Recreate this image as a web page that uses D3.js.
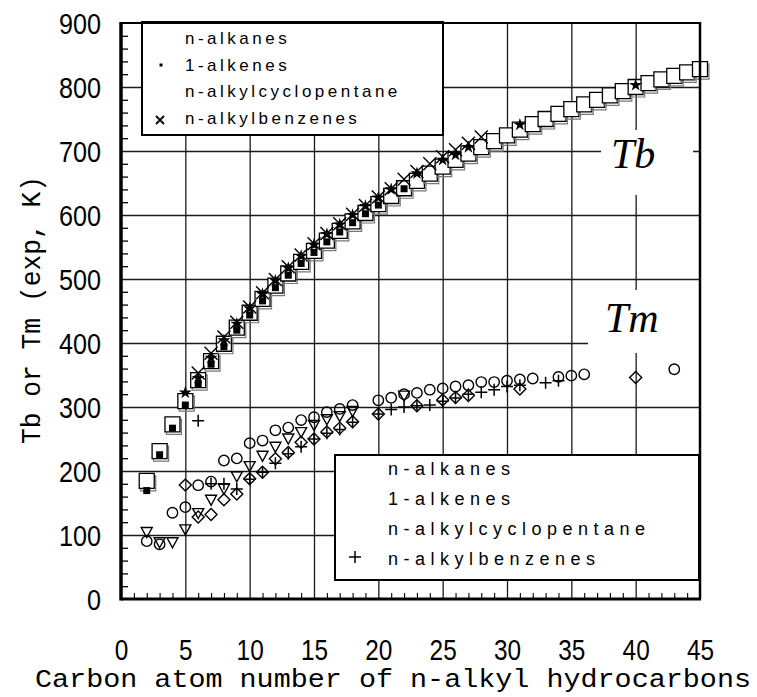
<!DOCTYPE html>
<html>
<head>
<meta charset="utf-8">
<script src="https://cdn.jsdelivr.net/npm/d3@7"></script>
<style>
  body { margin: 0; background: #fff; }
  text { fill: #000; }
</style>
</head>
<body>
<script>
// ---- data: [carbon number, temperature K] ----
// boiling points (Tb)
const tbAlkanes = [[2,184.6],[3,231.1],[4,272.7],[5,309.2],[6,341.9],[7,371.6],[8,398.8],[9,424.0],[10,447.3],[11,469.1],[12,489.5],[13,508.6],[14,526.7],[15,543.8],[16,560.0],[17,575.3],[18,589.9],[19,603.1],[20,616.9],[21,629.7],[22,641.8],[23,653.4],[24,664.5],[25,675.6],[26,686.0],[27,696.0],[28,706.0],[29,715.5],[30,724.5],[31,733.5],[32,742.0],[33,750.0],[34,758.0],[35,765.5],[36,773.0],[37,780.0],[38,787.0],[39,793.5],[40,800.0],[41,806.0],[42,812.0],[43,817.5],[44,823.0],[45,828.0]];
const tbAlkenes = [[2,169.4],[3,225.4],[4,266.9],[5,303.1],[6,336.6],[7,366.8],[8,394.4],[9,420.0],[10,443.7],[11,465.8],[12,486.5],[13,505.9],[14,524.3],[15,541.5],[16,558.0],[17,573.5],[18,588.0],[19,602.0],[20,615.5],[22,641.0]];
const tbCyclopentanes = [[5,322.4],[6,345.0],[7,376.6],[8,404.1],[9,430.0],[10,454.1],[11,476.3],[12,497.3],[13,517.0],[14,535.7],[15,553.3],[16,570.0],[17,585.0],[18,600.0],[19,614.0],[20,627.0],[21,640.0],[23,665.0],[25,686.0],[26,694.0],[27,706.0],[31,741.0],[40,803.0]];
const tbBenzenes = [[6,353.2],[7,383.8],[8,409.3],[9,432.4],[10,456.4],[11,478.6],[12,499.3],[13,519.0],[14,537.6],[15,555.0],[16,571.0],[17,586.4],[18,601.0],[19,615.0],[20,628.0],[21,641.0],[22,656.0],[23,668.0],[24,680.0],[25,691.0],[26,702.0],[27,712.0],[28,722.0]];

// melting points (Tm)
const tmAlkanes = [[2,90.4],[3,85.5],[4,134.8],[5,143.5],[6,177.8],[7,183.5],[8,216.4],[9,219.7],[10,243.5],[11,247.6],[12,263.6],[13,267.8],[14,279.5],[15,284.0],[16,292.0],[17,297.0],[18,303.0],[20,310.5],[21,314.5],[22,320.0],[23,322.0],[24,327.0],[25,329.0],[26,332.0],[27,334.0],[28,339.0],[29,339.0],[30,341.0],[31,343.0],[32,344.5],[34,347.0],[35,349.0],[36,351.0],[43,359.0]];
const tmAlkenes = [[2,103.9],[3,87.9],[4,87.8],[5,108.0],[6,133.4],[7,154.3],[8,171.4],[9,191.0],[10,206.9],[11,223.0],[12,237.0],[13,250.0],[14,260.0],[15,271.0],[16,280.0],[17,285.0],[18,293.0],[22,317.0]];
const tmCyclopentanes = [[5,178.0],[6,128.0],[7,132.0],[8,155.0],[9,164.0],[10,188.0],[11,198.0],[12,219.0],[13,229.0],[14,245.0],[15,250.0],[16,261.0],[17,267.0],[18,277.0],[20,289.0],[23,302.0],[25,311.0],[26,315.0],[27,318.0],[31,328.0],[40,346.0]];
const tmBenzenes = [[6,278.7],[7,180.0],[8,180.0],[9,172.0],[10,187.0],[11,198.0],[12,212.0],[13,227.0],[14,238.0],[15,250.0],[16,259.0],[17,265.0],[18,276.0],[20,289.0],[21,296.0],[22,300.0],[23,302.0],[24,303.0],[25,309.0],[26,314.0],[27,320.0],[28,323.0],[29,327.0],[30,332.0],[31,334.0],[33,338.0],[34,341.0]];

const xTicks = [0,5,10,15,20,25,30,35,40,45];
const yTicks = [0,100,200,300,400,500,600,700,800,900];
const legendNames = ["n-alkanes","1-alkenes","n-alkylcyclopentane","n-alkylbenzenes"];

const xTitle = "Carbon atom number of n-alkyl hydrocarbons";
const yTitle = "Tb or Tm (exp, K)";

// ---- setup ----
const W = 757, H = 697;
const svg = d3.select("body").append("svg").attr("width", W).attr("height", H);

const x = d3.scaleLinear().domain([0, 45]).range([121, 700]);
const y = d3.scaleLinear().domain([0, 900]).range([599, 23]);

const xMinor = d3.range(1, 45).filter(v => v % 5 !== 0);
const yMinor = d3.range(20, 900, 20).filter(v => v % 100 !== 0);

// gridlines
svg.append("g")
  .attr("transform", `translate(0,${y(0)})`)
  .call(d3.axisBottom(x).tickValues(xTicks.filter(v => v > 0 && v < 45))
    .tickSize(-(y(0) - y(900))).tickFormat(""))
  .call(g => g.select(".domain").remove())
  .selectAll("line").attr("stroke", "#1a1a1a").attr("stroke-width", 1.3);

svg.append("g")
  .attr("transform", `translate(${x(0)},0)`)
  .call(d3.axisLeft(y).tickValues(yTicks.filter(v => v > 0 && v < 900))
    .tickSize(-(x(45) - x(0))).tickFormat(""))
  .call(g => g.select(".domain").remove())
  .selectAll("line").attr("stroke", "#1a1a1a").attr("stroke-width", 1.3);

// minor ticks, inside
svg.append("g")
  .attr("transform", `translate(0,${y(0)})`)
  .call(d3.axisBottom(x).tickValues(xMinor).tickSize(-6).tickFormat(""))
  .call(g => g.select(".domain").remove())
  .selectAll("line").attr("stroke", "#000").attr("stroke-width", 1.1);

svg.append("g")
  .attr("transform", `translate(${x(0)},0)`)
  .call(d3.axisLeft(y).tickValues(yMinor).tickSize(-7).tickFormat(""))
  .call(g => g.select(".domain").remove())
  .selectAll("line").attr("stroke", "#000").attr("stroke-width", 1.3);

// white patches behind the Tb / Tm labels
svg.append("rect").attr("x", 601).attr("y", 130).attr("width", 92).attr("height", 65).attr("fill", "#fff");
svg.append("rect").attr("x", 588).attr("y", 290).attr("width", 111).attr("height", 63).attr("fill", "#fff");

svg.append("text").attr("x", 611).attr("y", 168)
  .attr("font-family", "Liberation Serif, serif").attr("font-style", "italic")
  .attr("font-size", 42).text("Tb");
svg.append("text").attr("x", 605).attr("y", 332)
  .attr("font-family", "Liberation Serif, serif").attr("font-style", "italic")
  .attr("font-size", 42).text("Tm");

// legends
function legend(bx, by, bw, bh, tx, ty0, dy, fs, ls) {
  const g = svg.append("g");
  g.append("rect").attr("x", bx).attr("y", by).attr("width", bw).attr("height", bh)
    .attr("fill", "#fff").attr("stroke", "#000").attr("stroke-width", 2);
  g.selectAll("text").data(legendNames).enter().append("text")
    .attr("x", tx).attr("y", (d, i) => ty0 + i * dy)
    .attr("font-family", "Liberation Sans, Arial, sans-serif")
    .attr("font-size", fs).attr("letter-spacing", ls)
    .text(d => d);
  return g;
}
const lg1 = legend(142, 22, 301, 113, 185, 44, 26.7, 17, 3.5);
lg1.append("rect").attr("x", 159.5).attr("y", 63.5).attr("width", 3).attr("height", 3).attr("fill", "#000");
lg1.append("path").attr("d", "M156,116L164,124M164,116L156,124")
  .attr("stroke", "#000").attr("stroke-width", 1.8);

const lg2 = legend(335, 455, 364, 125, 388, 475, 30, 18, 5.5);
lg2.append("path").attr("d", "M349,557h12M355,551v12")
  .attr("stroke", "#000").attr("stroke-width", 1.5);

// ---- markers ----
const sq = s => `M${-s / 2},${-s / 2}h${s}v${s}h${-s}Z`;
const plusP = a => `M${-a},0H${a}M0,${-a}V${a}`;
const timesP = a => `M${-a},${-a}L${a},${a}M${a},${-a}L${-a},${a}`;
const diamondP = a => `M0,${-a}L${a},0L0,${a}L${-a},0Z`;
const triDownP = (w, h) => `M${-w / 2},${-h / 2}H${w / 2}L0,${h / 2}Z`;
const pos = d => `translate(${x(d[0])},${y(d[1])})`;

// Tb: open squares with a faint shadow
const tbSq = svg.append("g").selectAll("g").data(tbAlkanes).enter().append("g")
  .attr("transform", pos);
tbSq.append("path").attr("d", sq(15)).attr("transform", "translate(1.5,2.5)")
  .attr("fill", "none").attr("stroke", "#777").attr("stroke-width", 1.2);
tbSq.append("path").attr("d", sq(15))
  .attr("fill", "#fff").attr("stroke", "#000").attr("stroke-width", 1.3);

svg.append("g").selectAll("path").data(tbAlkenes).enter().append("path")
  .attr("transform", pos).attr("d", sq(7)).attr("fill", "#000");

svg.append("g").selectAll("path").data(tbCyclopentanes).enter().append("path")
  .attr("transform", pos).attr("d", d3.symbol(d3.symbolStar, 52)()).attr("fill", "#000");

svg.append("g").selectAll("path").data(tbBenzenes).enter().append("path")
  .attr("transform", pos).attr("d", timesP(6.5))
  .attr("fill", "none").attr("stroke", "#000").attr("stroke-width", 1.4);

// Tm
svg.append("g").selectAll("circle").data(tmAlkanes).enter().append("circle")
  .attr("cx", d => x(d[0])).attr("cy", d => y(d[1])).attr("r", 5.2)
  .attr("fill", "none").attr("stroke", "#000").attr("stroke-width", 1.4);

svg.append("g").selectAll("path").data(tmAlkenes).enter().append("path")
  .attr("transform", pos).attr("d", triDownP(11, 10))
  .attr("fill", "none").attr("stroke", "#000").attr("stroke-width", 1.4);

svg.append("g").selectAll("path").data(tmCyclopentanes).enter().append("path")
  .attr("transform", pos).attr("d", diamondP(6))
  .attr("fill", "none").attr("stroke", "#000").attr("stroke-width", 1.4);

svg.append("g").selectAll("path").data(tmBenzenes).enter().append("path")
  .attr("transform", pos).attr("d", plusP(6))
  .attr("fill", "none").attr("stroke", "#000").attr("stroke-width", 1.5);

// ---- frame ----
svg.append("line").attr("x1", x(0)).attr("x2", x(45)).attr("y1", y(900)).attr("y2", y(900))
  .attr("stroke", "#000").attr("stroke-width", 2.2);
svg.append("line").attr("x1", x(45)).attr("x2", x(45)).attr("y1", y(900) - 1).attr("y2", y(0))
  .attr("stroke", "#000").attr("stroke-width", 2.5);
svg.append("line").attr("x1", x(0)).attr("x2", x(45) + 1).attr("y1", y(0)).attr("y2", y(0))
  .attr("stroke", "#000").attr("stroke-width", 3.2);
svg.append("line").attr("x1", x(0)).attr("x2", x(0)).attr("y1", y(900) - 1).attr("y2", y(0) + 1.6)
  .attr("stroke", "#000").attr("stroke-width", 3.5);

// ---- tick labels ----
const sx = 0.84;
svg.append("g")
  .attr("transform", `translate(0,${y(0)})`)
  .call(d3.axisBottom(x).tickValues(xTicks).tickSize(0).tickFormat(d3.format("d")))
  .call(g => g.select(".domain").remove())
  .selectAll("text")
  .attr("y", 61).attr("dy", 0)
  .attr("transform", `scale(${sx},1)`)
  .attr("font-family", "Liberation Sans, Arial, sans-serif").attr("font-size", 29)
  .attr("fill", "#000");

svg.append("g")
  .attr("transform", `translate(${x(0)},0)`)
  .call(d3.axisLeft(y).tickValues(yTicks).tickSize(0).tickFormat(d3.format("d")))
  .call(g => g.select(".domain").remove())
  .selectAll("text")
  .attr("x", -20 / sx).attr("dy", "0.34em")
  .attr("transform", `scale(${sx},1)`)
  .attr("font-family", "Liberation Sans, Arial, sans-serif").attr("font-size", 30)
  .attr("fill", "#000");

// ---- axis titles ----
svg.append("text")
  .attr("x", 393).attr("y", 687)
  .attr("text-anchor", "middle")
  .attr("font-family", "Liberation Mono, monospace").attr("font-size", 26)
  .attr("textLength", 716).attr("lengthAdjust", "spacingAndGlyphs")
  .text(xTitle);

svg.append("text")
  .attr("transform", "translate(40,310) rotate(-90)")
  .attr("text-anchor", "middle")
  .attr("font-family", "Liberation Mono, monospace").attr("font-size", 27)
  .attr("textLength", 268).attr("lengthAdjust", "spacingAndGlyphs")
  .text(yTitle);
</script>
</body>
</html>
